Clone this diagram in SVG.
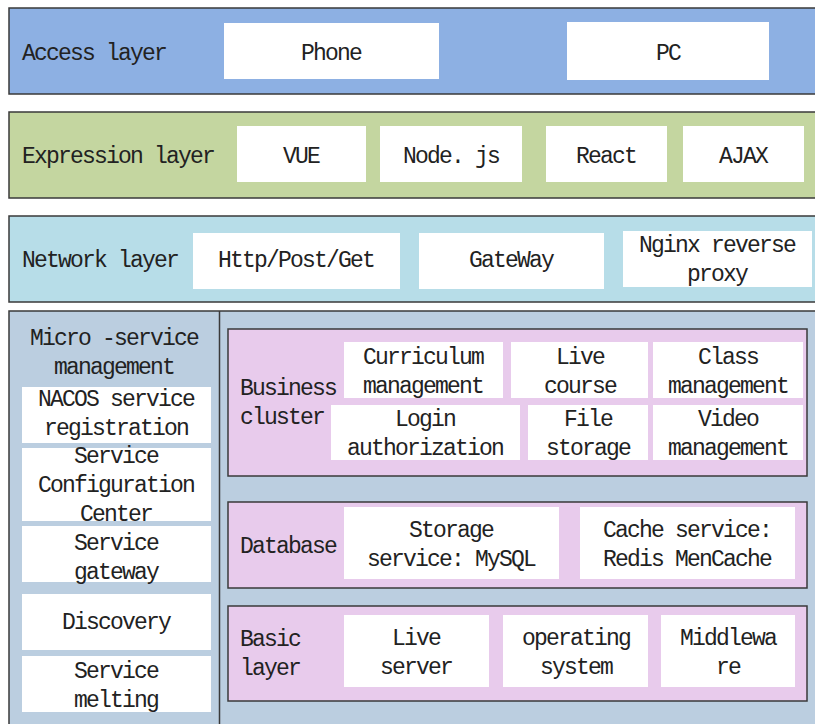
<svg xmlns="http://www.w3.org/2000/svg" width="815" height="724" viewBox="0 0 815 724">
<style>
.layer{stroke:#3a3a3a;stroke-width:1.5}
.box{fill:#ffffff}
text{font-family:"Liberation Mono","DejaVu Sans Mono",monospace;font-size:23px;letter-spacing:-1.8px;fill:#222}
.c{text-anchor:middle}
</style>
<rect width="815" height="724" fill="#ffffff"/>
<g id="access-layer">
<rect class="layer" x="9" y="8" width="820" height="86" fill="#8DB0E3"/>
<text x="22" y="60">Access layer</text>
</g>
<g id="phone"><rect class="box" x="224" y="23" width="215" height="56"/><text class="c" x="331" y="60">Phone</text></g>
<g id="pc"><rect class="box" x="567" y="22" width="202" height="58"/><text class="c" x="668" y="60">PC</text></g>

<g id="expression-layer">
<rect class="layer" x="9" y="112" width="820" height="86" fill="#C4D6A0"/>
<text x="22" y="163">Expression layer</text>
</g>
<g id="vue"><rect class="box" x="237" y="126" width="129" height="56"/><text class="c" x="301" y="163">VUE</text></g>
<g id="nodejs"><rect class="box" x="380" y="126" width="142" height="56"/><text class="c" x="451" y="163">Node. js</text></g>
<g id="react"><rect class="box" x="546" y="126" width="121" height="56"/><text class="c" x="606" y="163">React</text></g>
<g id="ajax"><rect class="box" x="683" y="126" width="121" height="56"/><text class="c" x="743" y="163">AJAX</text></g>

<g id="network-layer">
<rect class="layer" x="9" y="216" width="820" height="86" fill="#B7DDE8"/>
<text x="22" y="267">Network layer</text>
</g>
<g id="http"><rect class="box" x="193" y="233" width="207" height="56"/><text class="c" x="296" y="267">Http/Post/Get</text></g>
<g id="gateway"><rect class="box" x="419" y="233" width="185" height="56"/><text class="c" x="511" y="267">GateWay</text></g>
<g id="nginx"><rect class="box" x="623" y="231" width="189" height="56"/><text class="c" x="717" y="252">Nginx reverse</text><text class="c" x="717" y="281">proxy</text></g>

<g id="bottom-frame">
<rect class="layer" x="9" y="311" width="820" height="430" fill="#BBCEE0"/>
<line class="layer" x1="219.5" y1="311" x2="219.5" y2="724"/>
</g>
<g id="micro-service">
<text class="c" x="114" y="345">Micro -service</text>
<text class="c" x="114" y="374">management</text>
</g>
<g id="nacos"><rect class="box" x="22" y="387" width="189" height="56"/><text class="c" x="116" y="406">NACOS service</text><text class="c" x="116" y="435">registration</text></g>
<g id="config-center"><rect class="box" x="22" y="448" width="189" height="73"/><text class="c" x="116" y="463">Service</text><text class="c" x="116" y="492">Configuration</text><text class="c" x="116" y="521">Center</text></g>
<g id="service-gateway"><rect class="box" x="22" y="526" width="189" height="56"/><text class="c" x="116" y="550">Service</text><text class="c" x="116" y="579">gateway</text></g>
<g id="discovery"><rect class="box" x="22" y="594" width="189" height="56"/><text class="c" x="116" y="629">Discovery</text></g>
<g id="service-melting"><rect class="box" x="22" y="656" width="189" height="56"/><text class="c" x="116" y="678">Service</text><text class="c" x="116" y="707">melting</text></g>

<g id="business-cluster">
<rect class="layer" x="228" y="329" width="579" height="147" fill="#E8CBEC"/>
<text x="240" y="395">Business</text>
<text x="240" y="424">cluster</text>
</g>
<g id="curriculum"><rect class="box" x="344" y="342" width="159" height="56"/><text class="c" x="423" y="364">Curriculum</text><text class="c" x="423" y="393">management</text></g>
<g id="live-course"><rect class="box" x="511" y="342" width="137" height="56"/><text class="c" x="580" y="364">Live</text><text class="c" x="580" y="393">course</text></g>
<g id="class-mgmt"><rect class="box" x="653" y="342" width="150" height="56"/><text class="c" x="728" y="364">Class</text><text class="c" x="728" y="393">management</text></g>
<g id="login"><rect class="box" x="331" y="405" width="189" height="55"/><text class="c" x="425" y="426">Login</text><text class="c" x="425" y="455">authorization</text></g>
<g id="file-storage"><rect class="box" x="528" y="405" width="120" height="55"/><text class="c" x="588" y="426">File</text><text class="c" x="588" y="455">storage</text></g>
<g id="video-mgmt"><rect class="box" x="653" y="405" width="150" height="55"/><text class="c" x="728" y="426">Video</text><text class="c" x="728" y="455">management</text></g>

<g id="database">
<rect class="layer" x="228" y="502" width="579" height="86" fill="#E8CBEC"/>
<text x="240" y="553">Database</text>
</g>
<g id="mysql"><rect class="box" x="344" y="507" width="215" height="72"/><text class="c" x="451" y="537">Storage</text><text class="c" x="451" y="566">service: MySQL</text></g>
<g id="cache"><rect class="box" x="580" y="507" width="215" height="72"/><text class="c" x="687" y="537">Cache service:</text><text class="c" x="687" y="566">Redis MenCache</text></g>

<g id="basic-layer">
<rect class="layer" x="228" y="606" width="579" height="95" fill="#E8CBEC"/>
<text x="240" y="646">Basic</text>
<text x="240" y="675">layer</text>
</g>
<g id="live-server"><rect class="box" x="344" y="615" width="145" height="72"/><text class="c" x="416" y="645">Live</text><text class="c" x="416" y="674">server</text></g>
<g id="os"><rect class="box" x="503" y="615" width="145" height="72"/><text class="c" x="576" y="645">operating</text><text class="c" x="576" y="674">system</text></g>
<g id="middleware"><rect class="box" x="661" y="615" width="134" height="72"/><text class="c" x="728" y="645">Middlewa</text><text class="c" x="728" y="674">re</text></g>
<g id="connectors"></g>
</svg>
